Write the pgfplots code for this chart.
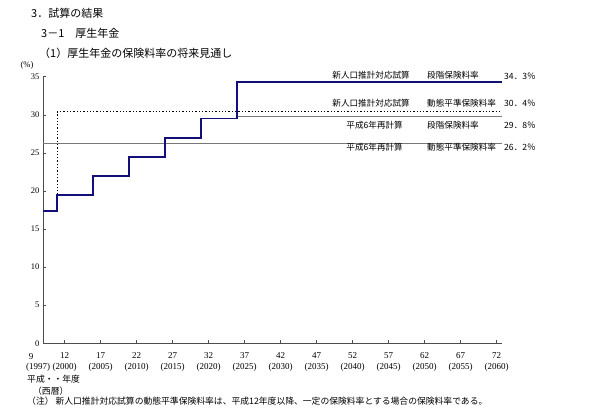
\documentclass[border=0pt]{standalone}
\usepackage{pgfplots}
\pgfplotsset{compat=1.18}
\usepackage{fontspec}
\setmainfont{Liberation Serif}
\newfontfamily\jp{Noto Sans CJK JP}
\definecolor{navyline}{RGB}{16,16,120}
\definecolor{grayline}{RGB}{120,120,120}
\begin{document}
\begin{tikzpicture}[x=1pt,y=1pt]
\path[use as bounding box] (0,0) rectangle (600,412);
\begin{axis}[at={(43pt,68.7pt)}, anchor=south west, scale only axis,
  width=459.3pt, height=266.6pt,
  xmin=9, xmax=72.8, ymin=0, ymax=35,
  axis lines*=left,
  axis line style={draw=black!70, line width=0.6pt},
  xtick={12,17,...,72},
  xticklabels={{12\\(2000)},{17\\(2005)},{22\\(2010)},{27\\(2015)},{32\\(2020)},{37\\(2025)},{42\\(2030)},{47\\(2035)},{52\\(2040)},{57\\(2045)},{62\\(2050)},{67\\(2055)},{72\\(2060)}},
  xticklabel style={align=center, font=\fontsize{9}{10.5}\selectfont, yshift=-6pt},
  ytick={0,5,...,35},
  yticklabel style={font=\fontsize{8.5}{9}\selectfont},
  /pgf/number format/assume math mode=true,
  tick align=inside, major tick length=3pt,
  tick style={draw=black!70, line width=0.5pt},
  clip=false]
\addplot[grayline, line width=0.8pt] coordinates {(9,26.2) (72.8,26.2)};
\addplot[grayline, line width=0.8pt] coordinates {(36,29.8) (72.8,29.8)};
\addplot[black, line width=1.3pt, dotted] coordinates {(11,19.5) (11,30.4) (72.8,30.4)};
\addplot[navyline, line width=1.8pt, const plot] coordinates {(9,17.35) (11,19.5) (16,22) (21,24.5) (26,27) (31,29.5) (36,34.3) (72.8,34.3)};
\end{axis}
% titles
\node[anchor=west, font=\jp\fontsize{11}{12}\selectfont, inner sep=0pt] at (31,399) {3．試算の結果};
\node[anchor=west, font=\jp\fontsize{11}{12}\selectfont, inner sep=0pt] at (41,379) {3－1　厚生年金};
\node[anchor=west, font=\jp\fontsize{11}{12}\selectfont, inner sep=0pt] at (39,359) {（1）厚生年金の保険料率の将来見通し};
\node[font=\fontsize{8.5}{9}\selectfont, inner sep=0pt] at (27,347) {(\%)};
% right labels
\begin{scope}[every node/.style={font=\jp\fontsize{8.6}{9}\selectfont, inner sep=0pt}]
\node[anchor=east] at (410,337) {新人口推計対応試算};
\node[anchor=west] at (427,337) {段階保険料率};
\node[anchor=east] at (410,308.7) {新人口推計対応試算};
\node[anchor=west] at (427,308.7) {動態平準保険料率};
\node[anchor=east] at (403,287) {平成6年再計算};
\node[anchor=west] at (427,287) {段階保険料率};
\node[anchor=east] at (403,264.3) {平成6年再計算};
\node[anchor=west] at (427,264.3) {動態平準保険料率};
\node[anchor=west] at (504,336) {34．3％};
\node[anchor=west] at (504,308.7) {30．4％};
\node[anchor=west] at (504,287) {29．8％};
\node[anchor=west] at (504,264.3) {26．2％};
\end{scope}
% bottom texts
\node[font=\fontsize{9}{10}\selectfont, inner sep=0pt] at (31,55.5) {9};
\node[font=\fontsize{9}{10}\selectfont, inner sep=0pt] at (38,44.5) {(1997)};
\begin{scope}[every node/.style={font=\jp\fontsize{8.8}{9}\selectfont, inner sep=0pt, anchor=west}]
\node at (27,32.5) {平成・・年度};
\node at (33,21) {（西暦）};
\node at (27,10.5) {（注）\ 新人口推計対応試算の動態平準保険料率は、平成12年度以降、一定の保険料率とする場合の保険料率である。};
\end{scope}
\end{tikzpicture}
\end{document}
